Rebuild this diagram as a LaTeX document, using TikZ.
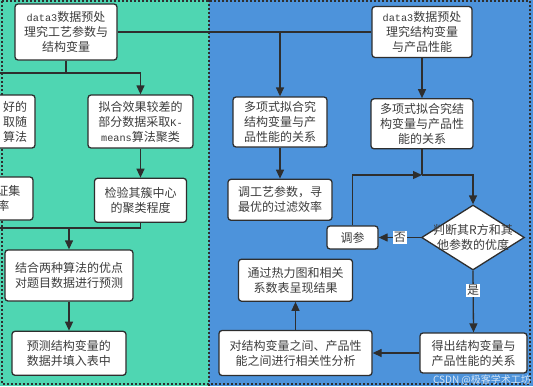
\documentclass[tikz,border=0pt]{standalone}
\usepackage{fontspec}
\usepackage{xcolor}
\usepackage{tikz}
\usetikzlibrary{arrows.meta, positioning, shapes.geometric}
\newfontfamily\cjk{Noto Sans CJK SC}
\newfontfamily\mono[Scale=0.85]{Liberation Mono}
\definecolor{vertfond}{HTML}{4FD6B2}
\definecolor{bleufond}{HTML}{4D93DB}
\definecolor{encre}{HTML}{2E2E2E}
\definecolor{texte}{HTML}{3C3C3C}
\tikzset{
  bloc/.style={rectangle, rounded corners=3pt, draw=encre, line width=1.3pt, fill=white,
    text=texte, font=\cjk\fontsize{12}{15}\selectfont, align=center, inner sep=2pt},
  losange/.style={diamond, draw=encre, line width=1.3pt, fill=white, inner sep=0pt},
  fleche/.style={-{Triangle[length=9pt, width=8pt]}, line width=1.3pt, draw=encre},
  ligne/.style={line width=1.3pt, draw=encre},
  etiquette/.style={fill=white, inner sep=1pt, text=texte, font=\cjk\fontsize{12}{15}\selectfont},
  bordure/.style={draw=encre, line width=1.2pt, dash pattern=on 2pt off 2pt},
}

\begin{document}
\begin{tikzpicture}[x=1pt, y=-1pt]
    \useasboundingbox (0,0) rectangle (533,386);
    \clip (0,0) rectangle (533,386);

    % fonds des deux zones
    \fill[vertfond] (0,0) rectangle (209,386);
    \fill[bleufond] (209,0) rectangle (533,386);
    \draw[bordure] (2,1) rectangle (530,384);
    \draw[bordure] (209,0) -- (209,386);

    % zone de gauche
    \node[bloc, minimum width=102pt, minimum height=56pt] (pretrait1) at (66,32)
      {{\mono data3}数据预处\\理究工艺参数与\\结构变量};
    \node[bloc, minimum width=95pt, minimum height=53pt, text width=79pt, align=right]
      (gauche1) at (-12.5,121.5) {好的\\取随\\算法};
    \node[bloc, minimum width=105pt, minimum height=53pt] (kmeans) at (140.5,121.5)
      {拟合效果较差的\\部分数据采取{\mono K-}\\{\mono means}算法聚类};
    \node[bloc, minimum width=95pt, minimum height=43pt, text width=70pt, align=right]
      (gauche2) at (-14.5,198.5) {证集\\率\hspace*{11pt}};
    \node[bloc, minimum width=92pt, minimum height=44pt, below=29pt of kmeans] (jianyan)
      {检验其簇中心\\的聚类程度};
    \node[bloc, minimum width=128pt, minimum height=51pt] (jiehe) at (69,275.5)
      {结合两种算法的优点\\对题目数据进行预测};
    \node[bloc, minimum width=114pt, minimum height=44pt, below=29pt of jiehe] (yuce)
      {预测结构变量的\\数据并填入表中};

    % zone de droite
    \node[bloc, minimum width=100pt, minimum height=51pt] (pretrait2) at (422,32)
      {{\mono data3}数据预处\\理究结构变量\\与产品性能};
    \node[bloc, minimum width=94pt, minimum height=50pt] (duoxiang1) at (280,122)
      {多项式拟合究\\结构变量与产\\品性能的关系};
    \node[bloc, minimum width=104pt, minimum height=41pt, below=31pt of duoxiang1] (tiaogongyi)
      {调工艺参数，寻\\最优的过滤效率};
    \node[bloc, minimum width=102pt, minimum height=50pt, below=40pt of pretrait2] (duoxiang2)
      {多项式拟合究结\\构变量与产品性\\能的关系};
    \node[losange, minimum width=103pt, minimum height=65pt] (juge) at (473,237.5) {};
    \node[text=texte, font=\cjk\fontsize{12}{15}\selectfont, align=center] (jugetexte) at (juge)
      {判断其R方和其\\他参数的优度};
    \node[bloc, minimum width=51pt, minimum height=23pt] (tiaocan) at (352.5,237.5) {调参};
    \node[bloc, minimum width=107pt, minimum height=40pt] (dechu) at (473.5,353)
      {得出结构变量与\\产品性能的关系};
    \node[bloc, minimum width=153pt, minimum height=45pt] (duijiegou) at (295.5,353)
      {对结构变量之间、产品性\\能之间进行相关性分析};
    \node[bloc, minimum width=114pt, minimum height=42pt, above=28pt of duijiegou] (tongguo)
      {通过热力图和相关\\系数表呈现结果};

    \node[font=\cjk\fontsize{10}{11}\selectfont, text=white!75!bleufond] (filigrane) at (482,380)
      {CSDN @极客学术工坊};

    % liaisons
    \coordinate (noeudA) at (66,73);
    \coordinate (bordA) at (-5,73);
    \coordinate (bordB) at (-5,228);
    \coordinate (jonction) at (422,175);

    \draw[ligne] (pretrait1.south) -- (noeudA);
    \draw[fleche] (bordA) -| (kmeans.north);
    \draw[fleche] (kmeans) -- (jianyan);
    \draw[ligne] (jianyan.south) |- (bordB);
    \draw[fleche] (bordB -| jiehe.north) -- (jiehe.north);
    \draw[fleche] (jiehe) -- (yuce);

    \draw[ligne] (pretrait1.east) -- (pretrait2.west);
    \draw[fleche] (pretrait1.east -| duoxiang1.north) -- (duoxiang1.north);
    \draw[fleche] (duoxiang1) -- (tiaogongyi);
    \draw[fleche] (pretrait2) -- (duoxiang2);
    \draw[ligne] (duoxiang2.south) -- (jonction);
    \draw[fleche] (jonction) -| (juge.north);
    \draw[fleche] (tiaocan.north) |- (jonction);
    \draw[fleche] (juge.west) -- node[etiquette] {否} (tiaocan.east);
    \draw[fleche] (juge.south) -- node[etiquette, pos=0.32] {是} (dechu.north);
    \draw[fleche] (dechu) -- (duijiegou);
    \draw[fleche] (duijiegou) -- (tongguo);
  \end{tikzpicture}
\end{document}
